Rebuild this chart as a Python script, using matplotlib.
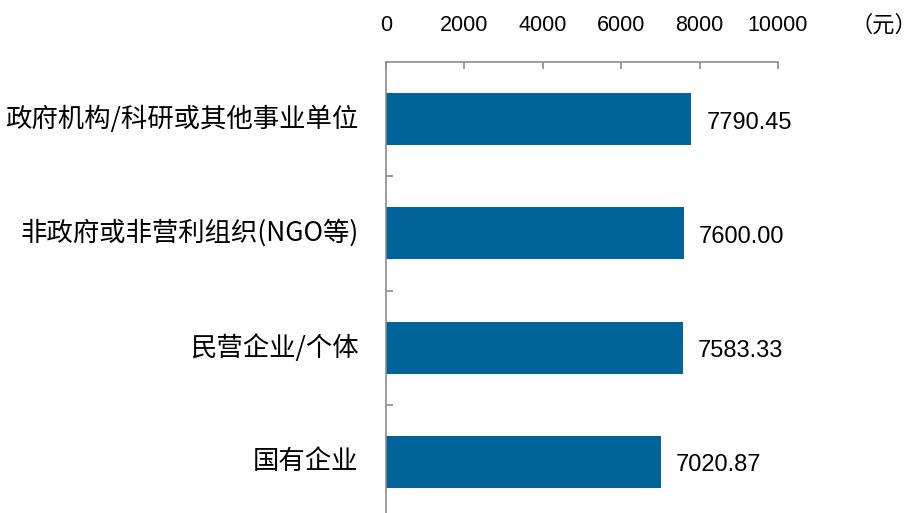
import matplotlib
matplotlib.use("Agg")
import matplotlib.pyplot as plt

plt.rcParams['font.family'] = ['Liberation Sans', 'Noto Sans CJK SC', 'DejaVu Sans']

categories = ['政府机构/科研或其他事业单位', '非政府或非营利组织(NGO等)',
              '民营企业/个体', '国有企业']
values = [7790.45, 7600.00, 7583.33, 7020.87]
xticks = [0, 2000, 4000, 6000, 8000, 10000]

bar_color = '#00649a'
axis_color = '#8c8c8c'

fig = plt.figure(figsize=(9.19, 5.13), dpi=100)
ax = fig.add_axes([386 / 919, 1 - 519 / 513, (778 - 386) / 919, (519 - 62) / 513])

ypos = list(range(len(categories)))
ax.barh(ypos, values, height=0.455, color=bar_color)

ax.set_xlim(0, 10000)
ax.set_ylim(len(categories) - 0.5, -0.5)

ax.xaxis.tick_top()
ax.set_xticks(xticks)
ax.set_xticklabels([str(t) for t in xticks], fontsize=15.5)
ax.tick_params(axis='x', direction='in', length=5, width=1.2, color=axis_color, pad=19)

ax.set_yticks([i + 0.5 for i in ypos[:-1]])
ax.set_yticklabels([])
ax.tick_params(axis='y', direction='in', length=5, width=1.2, color=axis_color)

for s in ['right', 'bottom']:
    ax.spines[s].set_visible(False)
for s in ['top', 'left']:
    ax.spines[s].set_color(axis_color)
    ax.spines[s].set_linewidth(1.2)

for y, (cat, v) in enumerate(zip(categories, values)):
    ax.text(-700, y, cat, ha='right', va='center', fontsize=19,
            family=['Noto Sans CJK SC', 'DejaVu Sans'])
    ax.text(v + 380, y + 0.03, '%.2f' % v, ha='left', va='center', fontsize=17)

fig.text(917 / 919, 1 - 25 / 513, '（元）', ha='right', va='center', fontsize=16,
         family=['Noto Sans CJK SC', 'DejaVu Sans'])

fig.savefig('out.png', dpi=100)
